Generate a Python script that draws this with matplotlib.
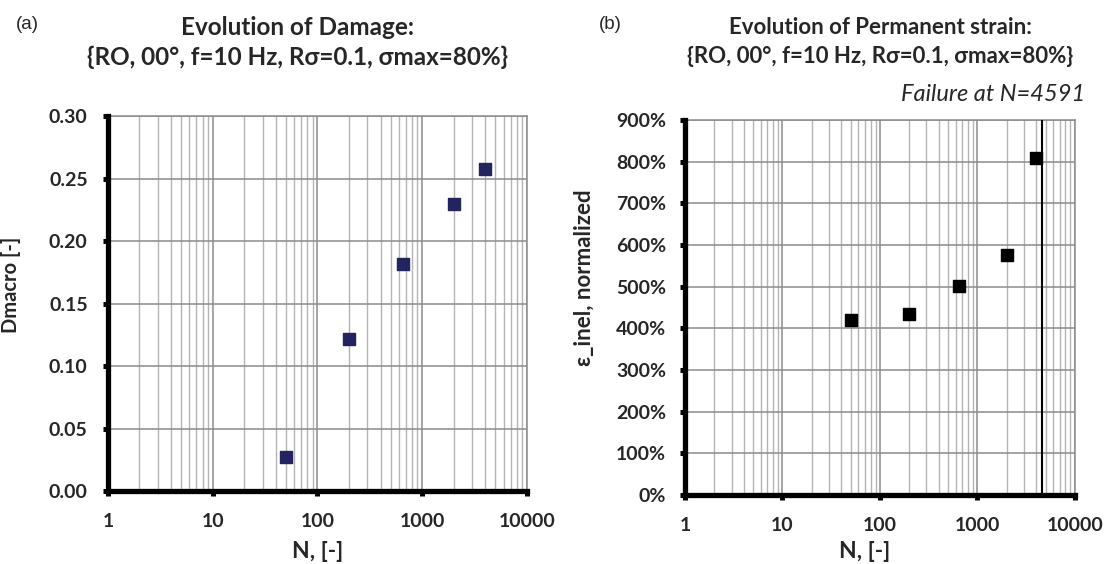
import numpy as np
import matplotlib.pyplot as plt
from matplotlib.ticker import LogLocator, FixedLocator, FuncFormatter, NullFormatter

# data
cycles = [50, 200, 650, 2000, 4000]
damage = [0.027, 0.122, 0.182, 0.230, 0.258]
strain = [4.20, 4.34, 5.01, 5.76, 8.10]
n_failure = 4591

plt.rcParams['font.family'] = ['Lato', 'DejaVu Sans']
txt = '#262626'

fig = plt.figure(figsize=(11.05, 5.64), dpi=100)
ax1 = fig.add_axes([0.0977, 0.1294, 0.3792, 0.6649])
ax2 = fig.add_axes([0.6199, 0.1223, 0.3529, 0.6649])


def style(ax, ypad):
    ax.set_xscale('log')
    ax.set_xlim(1, 10000)
    ax.xaxis.set_major_locator(LogLocator(base=10, numticks=10))
    ax.xaxis.set_minor_locator(LogLocator(base=10, subs=np.arange(2, 10), numticks=10))
    ax.xaxis.set_minor_formatter(NullFormatter())
    ax.xaxis.set_major_formatter(FuncFormatter(lambda v, p: '%d' % round(v)))
    ax.grid(True, which='major', color='#8c8c8c', lw=1.1)
    ax.grid(True, which='minor', axis='x', color='#b4b4b4', lw=1.0)
    ax.set_axisbelow(True)
    for s in ['left', 'bottom']:
        ax.spines[s].set_color('black')
        ax.spines[s].set_linewidth(3.8)
        ax.spines[s].set_zorder(5)
    for s in ['top', 'right']:
        ax.spines[s].set_color('#8c8c8c')
        ax.spines[s].set_linewidth(1.1)
    ax.tick_params(which='major', direction='out', length=3.6, width=3.6,
                   color='black', labelsize=14, labelcolor=txt)
    ax.tick_params(axis='x', pad=12)
    ax.tick_params(axis='y', pad=ypad)
    ax.tick_params(which='minor', length=0)


def bold_ticks(ax):
    for lab in ax.get_xticklabels() + ax.get_yticklabels():
        lab.set_fontweight('bold')


# (a) damage
style(ax1, 11)
ax1.set_ylim(0, 0.30)
ax1.yaxis.set_major_locator(FixedLocator(np.arange(0, 0.31, 0.05)))
ax1.yaxis.set_major_formatter(FuncFormatter(lambda v, p: '%.2f' % v))
bold_ticks(ax1)
ax1.scatter(cycles, damage, marker='s', s=67, color='#232360', zorder=6, clip_on=False)
ax1.set_xlabel('N, [-]', fontsize=16.5, fontweight='bold', color=txt)
ax1.xaxis.set_label_coords(0.5, -0.133)
ax1.set_ylabel('Dmacro [-]', fontsize=14.5, fontweight='bold', color=txt)
ax1.yaxis.set_label_coords(-0.208, 0.549)
fig.text(0.269, 0.952, 'Evolution of Damage:', fontsize=17.5, fontweight='bold',
         color=txt, ha='center', va='center')
fig.text(0.269, 0.899, '{RO, 00°, f=10 Hz, Rσ=0.1, σmax=80%}', fontsize=17.5,
         fontweight='bold', color=txt, ha='center', va='center')
fig.text(0.0145, 0.957, '(a)', fontsize=13.5, color=txt, family='Liberation Sans', va='center')

# (b) permanent strain
style(ax2, 10)
ax2.set_ylim(0, 9)
ax2.yaxis.set_major_locator(FixedLocator(np.arange(0, 9.1, 1)))
ax2.yaxis.set_major_formatter(FuncFormatter(lambda v, p: '%d%%' % round(v * 100)))
bold_ticks(ax2)
ax2.scatter(cycles, strain, marker='s', s=70, color='black', zorder=6, clip_on=False)
ax2.axvline(n_failure, color='black', lw=1.5, zorder=4)
ax2.set_xlabel('N, [-]', fontsize=16.5, fontweight='bold', color=txt)
ax2.xaxis.set_label_coords(0.46, -0.123)
ax2.set_ylabel('ε_inel, normalized', fontsize=16, fontweight='bold', color=txt)
ax2.yaxis.set_label_coords(-0.231, 0.579)
fig.text(0.7964, 0.952, 'Evolution of Permanent strain:', fontsize=16, fontweight='bold',
         color=txt, ha='center', va='center')
fig.text(0.7964, 0.899, '{RO, 00°, f=10 Hz, Rσ=0.1, σmax=80%}', fontsize=16,
         fontweight='bold', color=txt, ha='center', va='center')
fig.text(0.9819, 0.8316, 'Failure at N=4591', fontsize=17, style='italic', color=txt,
         ha='right', va='center')
fig.text(0.542, 0.957, '(b)', fontsize=13.5, color=txt, family='Liberation Sans', va='center')

fig.savefig('out.png', dpi=100)
